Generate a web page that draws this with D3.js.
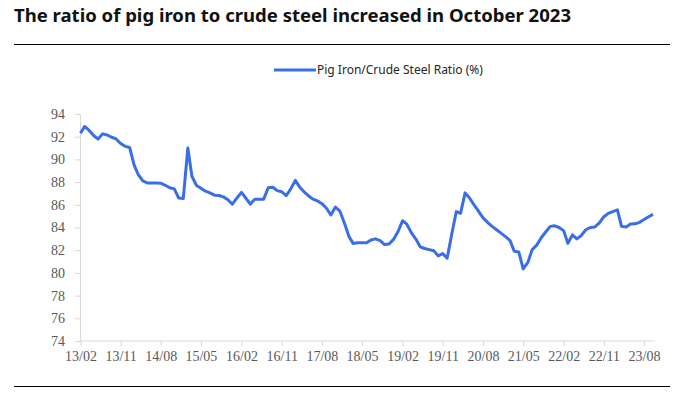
<!DOCTYPE html>
<html>
<head>
<meta charset="utf-8">
<script src="https://cdn.jsdelivr.net/npm/d3@7"></script>
<style>
  body { margin: 0; background: #fff; }
  svg { display: block; }
</style>
</head>
<body>
<div id="chart"></div>
<script>
// pig iron / crude steel ratio, monthly 2013-02 .. 2023-10
var startMonth = "2013-02", endMonth = "2023-10";
var ratio = [
  92.3, 92.9, 92.55, 92.1, 91.8, 92.25, 92.15, 91.95, 91.8, 91.4, 91.15,          // 2013
  91.05, 89.5, 88.65, 88.1, 87.93, 87.93, 87.93, 87.9, 87.72, 87.5, 87.4, 86.6,   // 2014
  86.55, 91.0, 88.5, 87.7, 87.45, 87.2, 87.05, 86.85, 86.82, 86.7, 86.45, 86.05,  // 2015
  86.6, 87.1, 86.6, 86.05, 86.5, 86.5, 86.5, 87.5, 87.55, 87.25, 87.15, 86.8,     // 2016
  87.4, 88.15, 87.6, 87.15, 86.8, 86.5, 86.35, 86.1, 85.7, 85.1, 85.8, 85.45,     // 2017
  84.4, 83.2, 82.6, 82.65, 82.65, 82.65, 82.9, 83.0, 82.85, 82.5, 82.55, 82.95,   // 2018
  83.65, 84.6, 84.3, 83.55, 83.0, 82.3, 82.15, 82.05, 81.95, 81.5, 81.7, 81.3,    // 2019
  83.4, 85.4, 85.25, 87.05, 86.6, 86.0, 85.45, 84.85, 84.45, 84.1, 83.8, 83.5,    // 2020
  83.2, 82.85, 81.9, 81.85, 80.35, 80.9, 82.05, 82.45, 83.1, 83.6, 84.1, 84.15,   // 2021
  84.0, 83.7, 82.6, 83.35, 83.0, 83.3, 83.8, 84.0, 84.05, 84.4, 84.95, 85.25,     // 2022
  85.4, 85.55, 84.1, 84.05, 84.3, 84.32, 84.45, 84.7, 84.95, 85.15                // 2023
];
var xTickLabels = ["13/02","13/11","14/08","15/05","16/02","16/11","17/08","18/05",
                   "19/02","19/11","20/08","21/05","22/02","22/11","23/08"];
var yTicks = [74, 76, 78, 80, 82, 84, 86, 88, 90, 92, 94];
var seriesName = "Pig Iron/Crude Steel Ratio (%)";
var titleText = "The ratio of pig iron to crude steel increased in October 2023";

var W = 693, H = 393;
var parseMonth = d3.timeParse("%Y-%m");
var parseTick = d3.timeParse("%y/%m");
var months = d3.timeMonth.range(parseMonth(startMonth), d3.timeMonth.offset(parseMonth(endMonth), 1));
var data = months.map(function(m, i) { return {date: m, value: ratio[i]}; });

var svg = d3.select("#chart").append("svg")
    .attr("width", W)
    .attr("height", H);

// title + rules
svg.append("text")
    .attr("x", 14)
    .attr("y", 22)
    .attr("font-family", "Noto Sans, sans-serif")
    .attr("font-weight", 700)
    .attr("font-size", 18)
    .attr("fill", "#111")
    .attr("textLength", 557)
    .attr("lengthAdjust", "spacingAndGlyphs")
    .text(titleText);

svg.append("line")
    .attr("x1", 14).attr("x2", 670)
    .attr("y1", 44.5).attr("y2", 44.5)
    .attr("stroke", "#000").attr("stroke-width", 1);

svg.append("line")
    .attr("x1", 14).attr("x2", 670)
    .attr("y1", 386.5).attr("y2", 386.5)
    .attr("stroke", "#000").attr("stroke-width", 1);

// scales
var x = d3.scaleTime()
    .domain(d3.extent(months))
    .range([80.5, 653]);

var y = d3.scaleLinear()
    .domain([74, 94])
    .range([341, 114]);

var axisColor = "#d9d9d9";

// x axis
var gx = svg.append("g")
    .attr("transform", "translate(0,341)")
    .call(d3.axisBottom(x)
        .tickValues(xTickLabels.map(function(t) { return parseTick(t); }))
        .tickFormat(d3.timeFormat("%y/%m"))
        .tickSize(5)
        .tickSizeOuter(0)
        .tickPadding(5));
gx.select(".domain").remove();
gx.append("line")
    .attr("x1", 80).attr("x2", 655)
    .attr("stroke", axisColor);
gx.selectAll(".tick line").attr("stroke", axisColor);
gx.selectAll("text")
    .attr("font-family", "Liberation Serif, Times New Roman, serif")
    .attr("font-size", 14)
    .attr("fill", "#595959");

// y axis
var gy = svg.append("g")
    .attr("transform", "translate(80,0)")
    .call(d3.axisLeft(y)
        .tickValues(yTicks)
        .tickSize(5)
        .tickSizeOuter(0)
        .tickPadding(10));
gy.select(".domain").attr("stroke", axisColor);
gy.selectAll(".tick line").attr("stroke", axisColor);
gy.selectAll("text")
    .attr("font-family", "Liberation Serif, Times New Roman, serif")
    .attr("font-size", 14)
    .attr("fill", "#595959");

// the line
var lineColor = "#3a6ee8";
svg.append("path")
    .datum(data)
    .attr("fill", "none")
    .attr("stroke", lineColor)
    .attr("stroke-width", 3)
    .attr("stroke-linejoin", "round")
    .attr("d", d3.line()
        .x(function(d) { return x(d.date); })
        .y(function(d) { return y(d.value); }));

// legend
var legend = svg.append("g").attr("transform", "translate(274,70)");
legend.append("line")
    .attr("x1", 0).attr("x2", 42)
    .attr("stroke", lineColor)
    .attr("stroke-width", 3);
legend.append("text")
    .attr("x", 43)
    .attr("y", 4)
    .attr("font-family", "Noto Sans, sans-serif")
    .attr("font-size", 12)
    .attr("fill", "#262626")
    .text(seriesName);
</script>
</body>
</html>
